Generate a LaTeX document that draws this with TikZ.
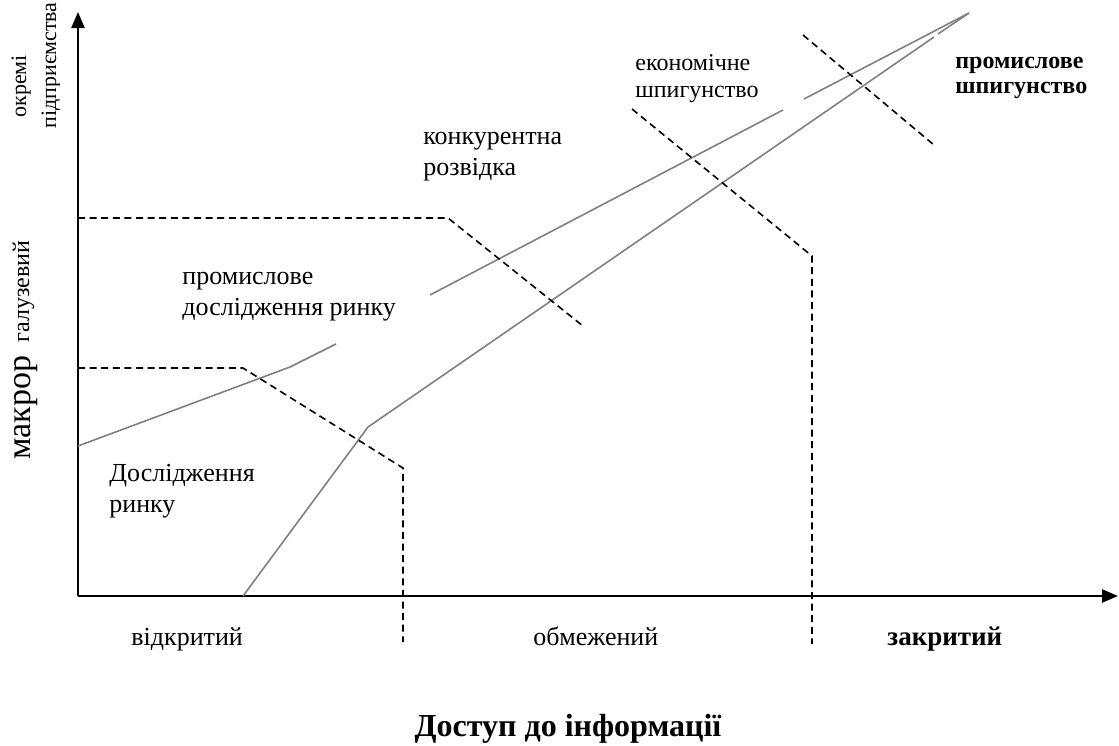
\documentclass[tikz,border=0pt]{standalone}
\usepackage{fontspec}
\setmainfont{Liberation Serif}
\usetikzlibrary{arrows.meta}

\tikzset{
  axis/.style={line width=1.2pt, -{Triangle[length=8pt,width=6.5pt]}},
  trend/.style={line width=0.8pt, draw=gray},
  border/.style={line width=0.8pt, dash pattern=on 3.5pt off 2.3pt},
  lbl/.style={font=\fontsize{13}{15.5}\selectfont, align=left, inner sep=0pt},
  small/.style={font=\fontsize{12}{13.5}\selectfont, align=left, inner sep=0pt},
  vlbl/.style={rotate=90, anchor=base west, inner sep=0pt},
}

\begin{document}
\begin{tikzpicture}[x=0.5pt,y=-0.5pt]
\useasboundingbox (0,0) rectangle (1119,745);

% Drawing axes
\draw[axis] (78,596) -- (78,12);
\draw[axis] (78,596) -- (1118,596);

% Drawing line promyslove
\draw[trend] (78,446) -- (290,367) -- (336,344);
\draw[trend] (430,295) -- (783,110);
\draw[trend] (804,99) -- (969,13);

% Drawing line rozvidka
\draw[trend] (243,596) -- (368,427) -- (934,37);
\draw[trend] (938,34) -- (969,13);

% Drawing borders
\draw[border] (78,368) -- (243,368) -- (403,468) -- (403,642);
\draw[border] (78,218) -- (448,218) -- (583,326);
\draw[border] (632,109) -- (812,256) -- (812,644);
\draw[border] (803,35) -- (934,145);

% Marking regions (base = last line)
\node[lbl, anchor=base west] (rynok) at (109,512) {Дослідження\\ринку};
\node[lbl, anchor=base west] (promrynok) at (182,315) {промислове\\дослідження ринку};
\node[lbl, anchor=base west] (konk) at (423,175) {конкурентна\\розвідка};
\node[small, anchor=base west] (ekon) at (635,97) {економічне\\шпигунство};
\node[small, anchor=base west, font=\fontsize{12}{12.5}\selectfont\bfseries] (promshp) at (955,93) {промислове\\шпигунство};

% Marking access levels
\node[lbl, anchor=base west] (vidkr) at (131,645) {відкритий};
\node[lbl, anchor=base west] (obmezh) at (533,645) {обмежений};
\node[lbl, anchor=base west, font=\fontsize{13.5}{15.5}\selectfont\bfseries] (zakr) at (887,645) {закритий};
\node[inner sep=0pt, anchor=base, font=\fontsize{16}{18}\selectfont\bfseries] (dostup) at (568,736) {Доступ до інформації};

% Marking levels on vertical axis
\node[vlbl, font=\fontsize{11}{12}\selectfont] (okremi) at (26,118) {окремі};
\begin{scope}
  \clip (0,0) rectangle (59,200);
  \node[vlbl, font=\fontsize{11}{12}\selectfont] (pidpr) at (56,129) {підприємства};
\end{scope}
\node[vlbl, font=\fontsize{17}{19}\selectfont] (makro) at (31,460) {макрор};
\node[vlbl, font=\fontsize{12}{14}\selectfont] (galuz) at (29,343) {галузевий};
\end{tikzpicture}
\end{document}
